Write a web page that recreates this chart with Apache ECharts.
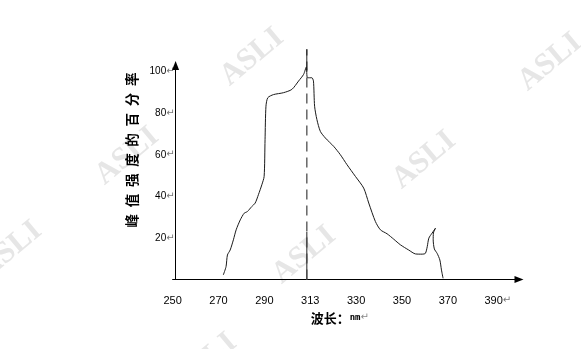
<!DOCTYPE html>
<html>
<head>
<meta charset="utf-8">
<script src="https://cdn.jsdelivr.net/npm/echarts@6/dist/echarts.min.js"></script>
<style>
html,body{margin:0;padding:0;background:#fff;}
#chart{width:581px;height:349px;}
</style>
</head>
<body>
<div id="chart"></div>
<script>
// ---- data ----
const xTickValues = [250, 270, 290, 310, 330, 350, 370, 390];
const xTickLabels = ['250', '270', '290', '313', '330', '350', '370', '390↵'];
const yTickValues = [20, 40, 60, 80, 100];
const yTickLabels = ['20↵', '40↵', '60↵', '80↵', '100↵'];

const wavelength = [
  272.1, 273.3, 273.9, 275.1, 276.5, 277.7, 279.5, 281.2, 282.6, 284.5,
  286.0, 287.4, 288.9, 289.9, 290.3, 290.7, 291.5, 294.0, 298.3, 302.0,
  304.9, 307.1, 308.3, 308.8, 310.7, 311.4, 311.9, 312.9, 314.4, 316.6,
  320.2, 323.1, 326.0, 329.7, 333.3, 335.5, 338.4, 340.6, 343.5, 346.4,
  349.3, 352.9, 355.9, 358.8, 360.2, 361.0, 361.7, 363.1, 364.6, 363.7,
  363.6, 364.1, 365.3, 366.5, 367.2, 367.9
];
const intensity = [
  2.2, 6.2, 11.8, 14.2, 19.1, 23.9, 28.7, 31.9, 32.7, 35.1,
  36.8, 40.8, 45.6, 49.6, 67.3, 83.4, 87.5, 89.0, 89.9, 91.5,
  95.5, 98.7, 102.3, 97.1, 97.1, 95.5, 83.4, 77.0, 71.3, 68.1,
  64.1, 60.1, 55.3, 49.6, 44.0, 36.8, 27.9, 23.9, 22.0, 19.4,
  16.7, 14.2, 12.3, 12.2, 12.6, 15.8, 19.9, 22.3, 24.7, 22.4,
  19.1, 14.7, 12.6, 9.4, 4.6, 0.6
];
const peakMarkX = 308.5;
const peakMarkTop = 110.8;
const peakMarkSolidTopEnd = 100.8;
const peakMarkSolidBottomStart = 22.9;

const watermarkText = 'ASLI';
const xName = ['波长：', 'nm', '↵'];
const yName = '峰值强度的百分率';

// ---- chart ----
const curve = wavelength.map((w, i) => [w, intensity[i]]);

function xLabel(v) {
  const i = xTickValues.indexOf(v);
  if (i < 0) return '';
  const t = xTickLabels[i];
  if (t.endsWith('↵')) return '{s|}{n|' + t.slice(0, -1) + '}{r|↵}';
  return '{n|' + t + '}';
}
function yLabel(v) {
  const i = yTickValues.indexOf(v);
  if (i < 0) return '';
  const t = yTickLabels[i];
  if (t.endsWith('↵')) return '{n|' + t.slice(0, -1) + '}{r|↵}';
  return '{n|' + t + '}';
}

const wmStyle = {
  text: watermarkText,
  fontSize: 31,
  fontFamily: 'Liberation Serif',
  fontWeight: 'bold',
  fill: '#e6e6e6',
  align: 'center',
  verticalAlign: 'middle'
};
const wmRot = 40 * Math.PI / 180;
const wmCenters = [[252, 57], [550, 62], [127, 156], [424, 160], [10, 250], [304, 255], [205, 362]];

const chart = echarts.init(document.getElementById('chart'), null, {renderer: 'canvas'});
chart.setOption({
  animation: false,
  backgroundColor: '#fff',
  graphic: wmCenters.map(c => ({
    type: 'text', x: c[0], y: c[1], rotation: wmRot, z: -10, silent: true,
    style: Object.assign({}, wmStyle)
  })),
  grid: {
    left: 172.6, right: 62, top: 65.5, bottom: 69.5,
    containLabel: false, outerBoundsMode: 'none'
  },
  xAxis: {
    type: 'value', min: 250, max: 401, interval: 20,
    splitLine: {show: false},
    axisTick: {show: false},
    axisLine: {
      show: true, onZero: false, symbol: ['none', 'triangle'], symbolSize: [7, 9],
      lineStyle: {color: '#000', width: 1}
    },
    axisLabel: {
      show: true, margin: 15, showMinLabel: true, showMaxLabel: true,
      hideOverlap: false,
      formatter: xLabel,
      rich: {
        n: {fontSize: 11, color: '#000', fontFamily: 'Liberation Sans', height: 12},
        r: {fontSize: 10, color: '#777', fontFamily: 'DejaVu Sans', height: 12},
        s: {width: 8, height: 12}
      }
    },
    name: '{a|' + xName[0] + '}{b|' + xName[1] + '}{c|' + xName[2] + '}',
    nameLocation: 'middle', nameGap: 29,
    nameTextStyle: {
      padding: [0, 12, 0, 0],
      rich: {
        a: {fontSize: 13, fontWeight: 'bold', color: '#000', fontFamily: 'Noto Sans CJK SC'},
        b: {fontSize: 9, fontWeight: 'bold', color: '#000', fontFamily: 'DejaVu Sans Mono'},
        c: {fontSize: 10, color: '#888', fontFamily: 'DejaVu Sans'}
      }
    }
  },
  yAxis: {
    type: 'value', min: 0, max: 103, interval: 20, offset: -3,
    splitLine: {show: false},
    axisTick: {show: false},
    axisLine: {
      show: true, onZero: false, symbol: ['none', 'triangle'], symbolSize: [7, 9],
      lineStyle: {color: '#000', width: 1}
    },
    axisLabel: {
      show: true, margin: 1,
      formatter: yLabel,
      rich: {
        n: {fontSize: 10, color: '#000', fontFamily: 'Liberation Sans'},
        r: {fontSize: 10, color: '#777', fontFamily: 'DejaVu Sans'}
      }
    },
    name: yName.split('').join('\u2002'),
    nameLocation: 'middle', nameRotate: 90, nameGap: 36,
    nameTextStyle: {
      fontSize: 13.5, fontWeight: 'bold', color: '#000', fontFamily: 'Noto Sans CJK SC',
      padding: [0, 0, 0, 45]
    }
  },
  series: [
    {
      type: 'line', data: [[peakMarkX, 0], [peakMarkX, peakMarkTop]],
      clip: false, symbol: 'none', silent: true,
      lineStyle: {color: '#666', width: 1.5, type: [10, 6]}, z: 1
    },
    {
      type: 'line', data: [[peakMarkX, peakMarkTop], [peakMarkX, peakMarkSolidTopEnd]],
      clip: false, symbol: 'none', silent: true,
      lineStyle: {color: '#222', width: 1}, z: 1
    },
    {
      type: 'line', data: [[peakMarkX, peakMarkSolidBottomStart], [peakMarkX, 0]],
      clip: false, symbol: 'none', silent: true,
      lineStyle: {color: '#444', width: 1.2}, z: 1
    },
    {
      type: 'line', data: curve, clip: false, symbol: 'none', smooth: 0.25,
      lineStyle: {color: '#1a1a1a', width: 1}, z: 3
    }
  ]
});
</script>
</body>
</html>
